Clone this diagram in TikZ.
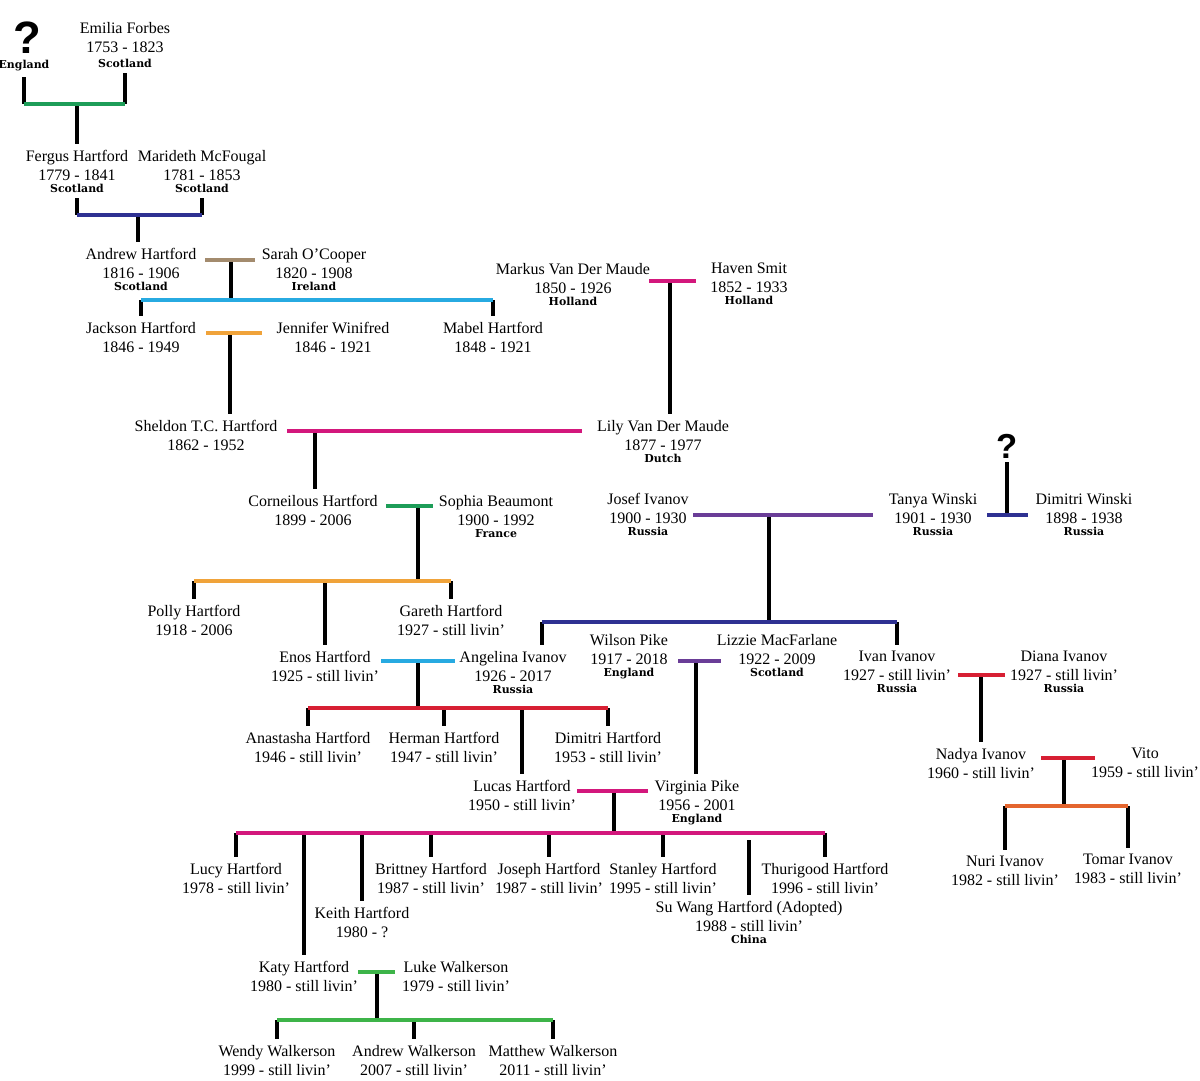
\documentclass[tikz,border=0pt]{standalone}
\usepackage{fontspec}
\setmainfont{Liberation Serif}
\newfontfamily\ctryfamily{DejaVu Serif}
\newfontfamily\qmfamily{Liberation Sans}
\usepackage{xcolor}
\usepackage{tikz}
\usetikzlibrary{positioning}
\definecolor{tiegreen}{HTML}{1D9D58}
\definecolor{tienavy}{HTML}{2E3192}
\definecolor{tietan}{HTML}{A38B6E}
\definecolor{tiesky}{HTML}{27AAE1}
\definecolor{tieamber}{HTML}{F0A33A}
\definecolor{tierose}{HTML}{D3177C}
\definecolor{tiegrape}{HTML}{6A3D97}
\definecolor{tiered}{HTML}{D71F33}
\definecolor{tierust}{HTML}{E4652E}
\definecolor{tielime}{HTML}{3DB449}
\newcommand{\namefont}{\fontsize{12}{14.3}\selectfont}
\newcommand{\ctry}[1]{{\ctryfamily\bfseries\fontsize{8.2}{9}\selectfont #1}}
\tikzset{
  pers/.style={align=center,font=\namefont,inner sep=0pt,outer sep=4.5pt,anchor=north},
  qmark/.style={font=\qmfamily\bfseries\fontsize{#1}{#1}\selectfont,inner sep=0pt,outer sep=3pt,anchor=base},
  tie/.style={draw=#1,line width=3pt},
  stem/.style={draw=black,line width=2.6pt},
}

\begin{document}
\begin{tikzpicture}[x=0.75pt,y=-0.75pt]
  \fill[white] (0,0) rectangle (1200,1081);
  \useasboundingbox (0,0) rectangle (1200,1081);

  % people
  \node[qmark=34] (qm1) at (27,54) {?};
  \node[pers,anchor=base] (eng) at (24,69) {\ctry{England}};
  \node[pers] (emilia) at (125,16) {Emilia Forbes\\1753 - 1823\\[-3pt]\ctry{Scotland}};
  \node[pers] (fergus) at (77,144) {Fergus Hartford\\1779 - 1841\\[-5.4pt]\ctry{Scotland}};
  \node[pers] (marideth) at (202,144) {Marideth McFougal\\1781 - 1853\\[-5.4pt]\ctry{Scotland}};
  \node[pers] (andrew) at (141,242) {Andrew Hartford\\1816 - 1906\\[-5.4pt]\ctry{Scotland}};
  \node[pers] (sarah) at (314,242) {Sarah O’Cooper\\1820 - 1908\\[-5.4pt]\ctry{Ireland}};
  \node[pers] (jackson) at (141,316) {Jackson Hartford\\1846 - 1949};
  \node[pers] (jennifer) at (333,316) {Jennifer Winifred\\1846 - 1921};
  \node[pers] (mabel) at (493,316) {Mabel Hartford\\1848 - 1921};
  \node[pers] (markus) at (573,257) {Markus Van Der Maude\\1850 - 1926\\[-5.4pt]\ctry{Holland}};
  \node[pers] (haven) at (749,257) {Haven Smit\\1852 - 1933\\[-5.4pt]\ctry{Holland}};
  \node[pers] (sheldon) at (206,414) {Sheldon T.C. Hartford\\1862 - 1952};
  \node[pers] (lily) at (663,414) {Lily Van Der Maude\\1877 - 1977\\[-5.4pt]\ctry{Dutch}};
  \node[pers] (corneilous) at (313,489) {Corneilous Hartford\\1899 - 2006};
  \node[pers] (sophia) at (496,489) {Sophia Beaumont\\1900 - 1992\\[-5.4pt]\ctry{France}};
  \node[pers] (josef) at (648,487) {Josef Ivanov\\1900 - 1930\\[-5.4pt]\ctry{Russia}};
  \node[pers] (tanya) at (933,487) {Tanya Winski\\1901 - 1930\\[-5.4pt]\ctry{Russia}};
  \node[qmark=26] (qm2) at (1007,458) {?};
  \node[pers] (dimitriw) at (1084,487) {Dimitri Winski\\1898 - 1938\\[-5.4pt]\ctry{Russia}};
  \node[pers] (polly) at (194,599) {Polly Hartford\\1918 - 2006};
  \node[pers] (gareth) at (451,599) {Gareth Hartford\\1927 - still livin’};
  \node[pers] (enos) at (325,645) {Enos Hartford\\1925 - still livin’};
  \node[pers] (angelina) at (513,645) {Angelina Ivanov\\1926 - 2017\\[-5.4pt]\ctry{Russia}};
  \node[pers] (wilson) at (629,628) {Wilson Pike\\1917 - 2018\\[-5.4pt]\ctry{England}};
  \node[pers] (lizzie) at (777,628) {Lizzie MacFarlane\\1922 - 2009\\[-5.4pt]\ctry{Scotland}};
  \node[pers] (ivan) at (897,645) {Ivan Ivanov\\1927 - still livin’\\[-5.4pt]\ctry{Russia}};
  \node[pers] (diana) at (1064,645) {Diana Ivanov\\1927 - still livin’\\[-5.4pt]\ctry{Russia}};
  \node[pers] (anastasha) at (308,726) {Anastasha Hartford\\1946 - still livin’};
  \node[pers] (herman) at (444,726) {Herman Hartford\\1947 - still livin’};
  \node[pers] (dimitrih) at (608,726) {Dimitri Hartford\\1953 - still livin’};
  \node[pers] (lucas) at (522,774) {Lucas Hartford\\1950 - still livin’};
  \node[pers] (virginia) at (697,774) {Virginia Pike\\1956 - 2001\\[-5.4pt]\ctry{England}};
  \node[pers] (nadya) at (981,742) {Nadya Ivanov\\1960 - still livin’};
  \node[pers] (vito) at (1145,742) {Vito\\1959 - still livin’};
  \node[pers] (lucy) at (236,857) {Lucy Hartford\\1978 - still livin’};
  \node[pers] (brittney) at (431,857) {Brittney Hartford\\1987 - still livin’};
  \node[pers] (joseph) at (549,857) {Joseph Hartford\\1987 - still livin’};
  \node[pers] (stanley) at (663,857) {Stanley Hartford\\1995 - still livin’};
  \node[pers] (thurigood) at (825,857) {Thurigood Hartford\\1996 - still livin’};
  \node[pers] (suwang) at (749,895) {Su Wang Hartford (Adopted)\\1988 - still livin’\\[-5.4pt]\ctry{China}};
  \node[pers] (keith) at (362,901) {Keith Hartford\\1980 - ?};
  \node[pers] (nuri) at (1005,850) {Nuri Ivanov\\1982 - still livin’};
  \node[pers] (tomar) at (1128,848) {Tomar Ivanov\\1983 - still livin’};
  \node[pers] (katy) at (304,955) {Katy Hartford\\1980 - still livin’};
  \node[pers] (luke) at (456,955) {Luke Walkerson\\1979 - still livin’};
  \node[pers] (wendy) at (277,1039) {Wendy Walkerson\\1999 - still livin’};
  \node[pers] (andreww) at (414,1039) {Andrew Walkerson\\2007 - still livin’};
  \node[pers] (matthew) at (553,1039) {Matthew Walkerson\\2011 - still livin’};

  % unions and sibling bars
  \coordinate (u1) at (77,104);
  \coordinate (u2) at (138,215);
  \coordinate (t3a) at (205,260); \coordinate (t3b) at (255,260);
  \coordinate (u3) at (231,260); \coordinate (s3) at (231,300);
  \coordinate (t4a) at (206,333); \coordinate (t4b) at (262,333); \coordinate (u4) at (230,333);
  \coordinate (t5a) at (649,281); \coordinate (t5b) at (696,281); \coordinate (u5) at (670,281);
  \coordinate (t6a) at (287,431); \coordinate (t6b) at (582,431); \coordinate (u6) at (315,431);
  \coordinate (t7a) at (386,506); \coordinate (t7b) at (433,506);
  \coordinate (u7) at (418,506); \coordinate (s7) at (418,581);
  \coordinate (t8a) at (381,661); \coordinate (t8b) at (455,661);
  \coordinate (u8) at (418,661); \coordinate (s8) at (418,708);
  \coordinate (t9a) at (577,791); \coordinate (t9b) at (648,791);
  \coordinate (u9) at (614,791); \coordinate (s9) at (614,833);
  \coordinate (sw) at (749,840);
  \coordinate (t10a) at (358,972); \coordinate (t10b) at (395,972);
  \coordinate (u10) at (377,972); \coordinate (s10) at (377,1020);
  \coordinate (t11a) at (693,515); \coordinate (t11b) at (873,515);
  \coordinate (u11) at (769,515); \coordinate (s11) at (769,622); \coordinate (ang) at (542,622);
  \coordinate (w0) at (1007,515); \coordinate (w1) at (987,515); \coordinate (w2) at (1028,515);
  \coordinate (t12a) at (678,661); \coordinate (t12b) at (721,661); \coordinate (u12) at (696,661);
  \coordinate (t13a) at (958,675); \coordinate (t13b) at (1005,675); \coordinate (u13) at (981,675);
  \coordinate (t14a) at (1041,758); \coordinate (t14b) at (1095,758);
  \coordinate (u14) at (1064,758); \coordinate (s14) at (1064,806);

  % stems
  \draw[stem] (eng.south) -- (eng.south |- u1);
  \draw[stem] (emilia.south) -- (emilia.south |- u1);
  \draw[stem] (u1) -- (u1 |- fergus.north);
  \draw[stem] (fergus.south) -- (fergus.south |- u2);
  \draw[stem] (marideth.south) -- (marideth.south |- u2);
  \draw[stem] (u2) -- (u2 |- andrew.north);
  \draw[stem] (u3) -- (s3);
  \draw[stem] (jackson.north |- s3) -- (jackson.north);
  \draw[stem] (mabel.north |- s3) -- (mabel.north);
  \draw[stem] (u4) -- (u4 |- sheldon.north);
  \draw[stem] (u5) -- (u5 |- lily.north);
  \draw[stem] (u6) -- (u6 |- corneilous.north);
  \draw[stem] (u7) -- (s7);
  \foreach \kid in {polly,enos,gareth}
    \draw[stem] (\kid.north |- s7) -- (\kid.north);
  \draw[stem] (u8) -- (s8);
  \foreach \kid in {anastasha,herman,lucas,dimitrih}
    \draw[stem] (\kid.north |- s8) -- (\kid.north);
  \draw[stem] (u9) -- (s9);
  \foreach \kid in {lucy,katy,keith,brittney,joseph,stanley,thurigood}
    \draw[stem] (\kid.north |- s9) -- (\kid.north);
  \draw[stem] (sw) -- (suwang.north);
  \draw[stem] (u10) -- (s10);
  \foreach \kid in {wendy,andreww,matthew}
    \draw[stem] (\kid.north |- s10) -- (\kid.north);
  \draw[stem] (u11) -- (s11);
  \draw[stem] (ang) -- (ang |- angelina.north);
  \draw[stem] (ivan.north |- s11) -- (ivan.north);
  \draw[stem] (qm2.south) -- (w0);
  \draw[stem] (u12) -- (u12 |- virginia.north);
  \draw[stem] (u13) -- (u13 |- nadya.north);
  \draw[stem] (u14) -- (s14);
  \draw[stem] (nuri.north |- s14) -- (nuri.north);
  \draw[stem] (tomar.north |- s14) -- (tomar.north);

  % coloured bars
  \draw[tie=tiegreen] (eng.south |- u1) -- (emilia.south |- u1);
  \draw[tie=tienavy] (fergus.south |- u2) -- (marideth.south |- u2);
  \draw[tie=tietan] (t3a) -- (t3b);
  \draw[tie=tiesky] (jackson.north |- s3) -- (mabel.north |- s3);
  \draw[tie=tieamber] (t4a) -- (t4b);
  \draw[tie=tierose] (t5a) -- (t5b);
  \draw[tie=tierose] (t6a) -- (t6b);
  \draw[tie=tiegreen] (t7a) -- (t7b);
  \draw[tie=tieamber] (polly.north |- s7) -- (gareth.north |- s7);
  \draw[tie=tiesky] (t8a) -- (t8b);
  \draw[tie=tiered] (anastasha.north |- s8) -- (dimitrih.north |- s8);
  \draw[tie=tierose] (t9a) -- (t9b);
  \draw[tie=tierose] (lucy.north |- s9) -- (thurigood.north |- s9);
  \draw[tie=tielime] (t10a) -- (t10b);
  \draw[tie=tielime] (wendy.north |- s10) -- (matthew.north |- s10);
  \draw[tie=tiegrape] (t11a) -- (t11b);
  \draw[tie=tienavy] (ang) -- (ivan.north |- s11);
  \draw[tie=tienavy] (w1) -- (w2);
  \draw[tie=tiegrape] (t12a) -- (t12b);
  \draw[tie=tiered] (t13a) -- (t13b);
  \draw[tie=tiered] (t14a) -- (t14b);
  \draw[tie=tierust] (nuri.north |- s14) -- (tomar.north |- s14);
\end{tikzpicture}
\end{document}
